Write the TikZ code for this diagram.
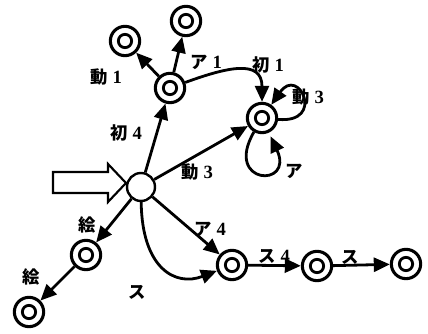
\documentclass[tikz,border=0pt]{standalone}
\usepackage{fontspec}
\setmainfont{Liberation Serif}
\newfontfamily\cjk{Noto Sans CJK JP}
\usetikzlibrary{arrows.meta}
% kanji/kana word followed by a bold serif number
\newcommand\jlabel[2]{{\cjk #1}\hspace{4pt}{\fontsize{14}{14}\selectfont #2}}
\begin{document}
\begin{tikzpicture}[x=0.75pt,y=-0.75pt,
  start/.style={circle,draw,line width=1.8pt,minimum size=21pt,inner sep=0pt,fill=white},
  acc/.style={circle,draw,line width=2.3pt,minimum size=22pt,inner sep=0pt,fill=white,
    path picture={\draw[line width=2.1pt] (path picture bounding box.center) circle (5pt);}},
  ed/.style={line width=2.1pt,-{Triangle[length=12pt,width=10.5pt]}},
  lb/.style={font=\fontsize{13}{14}\selectfont\bfseries,inner sep=0pt}
]
\useasboundingbox (0,0) rectangle (428,334);

% states
\node[start] (S) at (141,187) {};
\node[acc] (A) at (170,88) {};
\node[acc] (B) at (125,41) {};
\node[acc] (C) at (186,21) {};
\node[acc] (D) at (262,118) {};
\node[acc] (E) at (86,255) {};
\node[acc] (F) at (29,312) {};
\node[acc] (G) at (232,265) {};
\node[acc] (H) at (317,266) {};
\node[acc] (I) at (406,264) {};

% entry arrow
\draw[line width=1.6pt,fill=white,line join=miter]
  (53,172) -- (108,172) -- (108,164) -- (126,183) -- (108,202) -- (108,193) -- (53,193) -- cycle;

% transitions
\draw[ed] (S) -- (A);
\draw[ed] (A) -- (B);
\draw[ed] (A) -- (C);
\draw[ed] (A) to[out=20,in=90,looseness=1.4] (D);
\draw[ed] (S) -- (D);
\draw[ed] (D) to[out=-5,in=55,distance=36pt] (D);
\draw[ed,shorten >=3pt] (D) to[out=240,in=-65,distance=46pt] (D);
\draw[ed] (S) -- (E);
\draw[ed] (E) -- (F);
\draw[ed] (S) -- (G);
\draw[ed] (S) .. controls (142,268) and (175,287) .. (G);
\draw[ed] (G) -- (H);
\draw[ed] (H) -- (I);

% labels
\node[lb] (l1) at (126,133) {\jlabel{初}{4}};
\node[lb] (l2) at (106,77) {\jlabel{動}{1}};
\node[lb] (l3) at (206,62) {\jlabel{ア}{1}};
\node[lb] (l4) at (268,65) {\jlabel{初}{1}};
\node[lb] (l5) at (308,97) {\jlabel{動}{3}};
\node[lb] (l6) at (197,172) {\jlabel{動}{3}};
\node[lb] (l7) at (294,171) {\cjk ア};
\node[lb] (l8) at (87,225) {\cjk 絵};
\node[lb] (l9) at (31,277) {\cjk 絵};
\node[lb] (l10) at (210,229) {\jlabel{ア}{4}};
\node[lb] (l11) at (137,292) {\cjk ス};
\node[lb] (l12) at (274,256) {\jlabel{ス}{4}};
\node[lb] (l13) at (350,257) {\cjk ス};
\end{tikzpicture}
\end{document}
